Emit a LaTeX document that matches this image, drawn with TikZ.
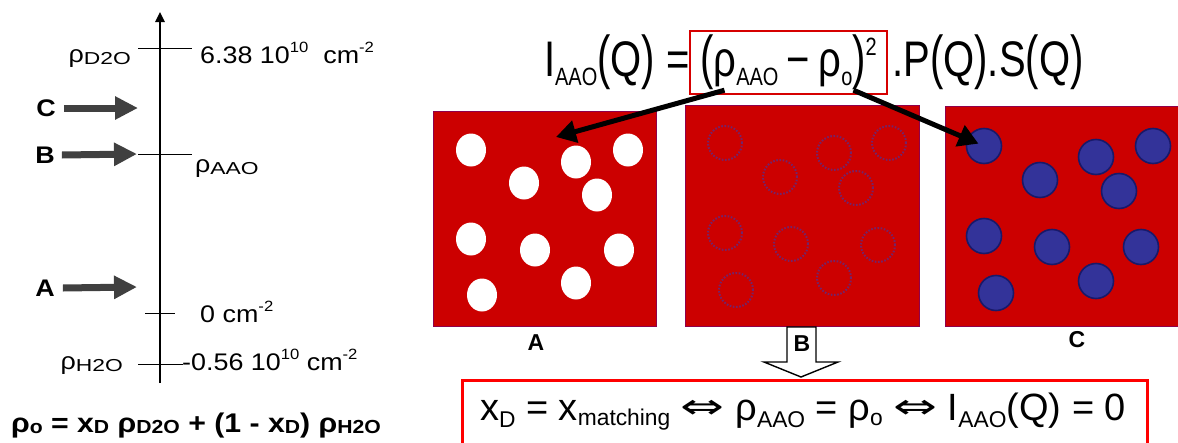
\documentclass[tikz,border=0pt]{standalone}
\usepackage{fontspec}
\setmainfont{Liberation Sans}
\newfontfamily\axfont[FakeStretch=1.12]{Liberation Sans}
\newfontfamily\eqfont[FakeStretch=0.8]{Liberation Sans}
\newfontfamily\symfont{DejaVu Sans}
\usepackage{graphicx}
\usetikzlibrary{arrows.meta,positioning,shapes.geometric}

\definecolor{panelred}{RGB}{204,0,0}
\definecolor{framered}{RGB}{214,0,0}
\definecolor{blobblue}{RGB}{51,51,153}
\definecolor{blobedge}{RGB}{25,25,105}
\definecolor{ghost}{RGB}{115,35,105}
\definecolor{arrowgray}{RGB}{64,64,64}

% sub- and superscripts
\newcommand{\lowtxt}[3][0.15em]{\raisebox{-#1}{\scalebox{#2}{#3}}}
\newcommand{\axsub}[1]{\raisebox{-0.12em}{\scalebox{0.85}[0.72]{#1}}}
\newcommand{\uptxt}[1]{\raisebox{0.45em}{\scalebox{0.62}{#1}}}
\newcommand{\tallpar}[1]{\raisebox{-0.02em}{\scalebox{1}[1.18]{#1}}}
\newcommand{\dblarr}{\ \raisebox{0.05em}{\scalebox{1.75}[1.15]{\symfont\fontsize{30}{30}\selectfont ⇔}}\ }

\begin{document}
\begin{tikzpicture}[x=1pt, y=-1pt,
  panel/.style = {draw=panelred!70!blue, line width=0.6pt, fill=panelred, anchor=north west, inner sep=0pt},
  hole/.style = {ellipse, fill=white, minimum width=30pt, minimum height=33pt, inner sep=0pt},
  ghostring/.style = {circle, draw=ghost, dash pattern=on 1.6pt off 1.6pt, line width=2pt, minimum size=34pt, inner sep=0pt},
  blob/.style = {circle, fill=blobblue, draw=blobedge, line width=1.6pt, minimum size=35pt, inner sep=0pt},
  tick/.style = {line width=0.8pt},
  axlbl/.style = {font=\axfont\fontsize{24}{24}\selectfont, inner sep=0pt, anchor=base west},
  letter/.style = {font=\axfont\bfseries\fontsize{24}{24}\selectfont, inner sep=0pt},
  fatarrow/.style = {line width=7pt, draw=arrowgray, -{Triangle[length=23pt, width=22pt]}},
  pointer/.style = {line width=5pt, -{Triangle[length=20pt, width=22pt]}},
  eqtop/.style = {font=\eqfont\fontsize{50}{50}\selectfont, inner sep=0pt},
  frame/.style = {draw=framered, line width=2.4pt},
  plabel/.style = {font=\bfseries\fontsize{23}{23}\selectfont, inner sep=0pt}
  ]
\useasboundingbox (0,0) rectangle (1178,442);

% density axis
\coordinate (axbot) at (160,383);
\coordinate (axtop) at (160,12);
\draw[line width=2.4pt, -{Triangle[length=10pt, width=9pt]}] (axbot) -- (axtop);

\draw[tick] (138,48) -- (192,48);
\draw[tick] (138,154) -- (192,154);
\draw[tick] (145,313) -- (175,313);
\draw[tick] (138,364) -- (183,364);

\node[axlbl, anchor=base east] (rd2o) at (131,62) {ρ\axsub{D2O}};
\node[axlbl] (vd2o) at (200,63) {6.38 10\uptxt{10}\ \ cm\uptxt{-2}};
\node[axlbl] (raao) at (195,172) {ρ\axsub{AAO}};
\node[axlbl] (vzero) at (200,322) {0 cm\uptxt{-2}};
\node[axlbl, anchor=base east] (rh2o) at (123,369) {ρ\axsub{H2O}};
\node[axlbl] (vh2o) at (182,370) {-0.56 10\uptxt{10} cm\uptxt{-2}};

% contrast arrows
\node[letter] (lc) at (46,108) {C};
\node[letter] (lb) at (45,155) {B};
\node[letter] (la) at (45,288) {A};
\coordinate (tc) at (138,108);
\coordinate (tb) at (137,154);
\coordinate (ta) at (137,287);
\draw[fatarrow] ([xshift=8pt]lc.east) -- (tc);
\draw[fatarrow] ([xshift=7pt]lb.east) -- (tb);
\draw[fatarrow] ([xshift=8pt]la.east) -- (ta);

% matching condition
\node[font=\axfont\bfseries\fontsize{27}{27}\selectfont, inner sep=0pt, anchor=base] (rho0) at (196,432)
  {ρ\lowtxt[0.05em]{0.7}{o} = x\lowtxt[0.05em]{0.7}{D} ρ\lowtxt[0.05em]{0.7}{D2O} + (1 - x\lowtxt[0.05em]{0.7}{D}) ρ\lowtxt[0.05em]{0.7}{H2O}};

% intensity formula
\node[eqtop, frame, minimum width=197pt, minimum height=63pt] (fbox) at (788.5,62.5)
  {\tallpar{(}ρ\lowtxt[0.17em]{0.5}{AAO}\,−\,ρ\lowtxt[0.17em]{0.5}{o}\tallpar{)}\raisebox{0.43em}{\scalebox{0.5}{2}}};
\node[eqtop, anchor=base east] (flhs) at ([xshift=1pt]fbox.base west)
  {I\lowtxt[0.17em]{0.5}{AAO}\tallpar{(}Q\tallpar{)} =};
\node[eqtop, anchor=base west] (frhs) at ([xshift=4pt]fbox.base east)
  {.P\tallpar{(}Q\tallpar{)}.S\tallpar{(}Q\tallpar{)}};

% samples
\node[panel, minimum width=223pt, minimum height=215pt] (pa) at (433,111) {};
\node[panel, minimum width=234pt, minimum height=221pt] (pb) at (685,105) {};
\node[panel, minimum width=234pt, minimum height=220pt] (pc) at (945,106) {};

\foreach \cx/\cy [count=\i] in {471/150, 524/183, 576/162, 628/150, 597/195,
    471/239, 535/250, 619/250, 482/295, 576/283}
  \node[hole] (a\i) at (\cx,\cy) {};
\foreach \cx/\cy [count=\i] in {725/143, 780/177, 834/153, 889/143, 856/188,
    725/233, 791/244, 878/245, 736/290, 834/278}
  \node[ghostring] (b\i) at (\cx,\cy) {};
\foreach \cx/\cy [count=\i] in {984/146, 1040/180, 1096/157, 1153/146, 1119/191,
    984/236, 1052/247, 1141/247, 996/293, 1096/281}
  \node[blob] (c\i) at (\cx,\cy) {};

\draw[line width=1.4pt, fill=white] (787,327) -- (787,362) -- (764,362) -- (801,377)
  -- (838,362) -- (816,362) -- (816,327) -- cycle;

\node[plabel] (na) at (536,343) {A};
\node[plabel] (nb) at (802,344) {B};
\node[plabel] (nc) at (1077,340) {C};

\coordinate (atip) at (556,137);
\draw[pointer] ([xshift=-64pt,yshift=5pt]fbox.south) -- (atip);
\draw[pointer, shorten >=6pt] ([xshift=65pt,yshift=5pt]fbox.south) -- (c1.center);

% result
\node[frame, draw=red, line width=2.8pt, anchor=north west, minimum width=685pt, minimum height=67pt] (res) at (461,379) {};
\node[font=\fontsize{38}{38}\selectfont, inner sep=0pt, anchor=base] (restxt) at (803,420)
  {x\lowtxt[0.2em]{0.6}{D} = x\lowtxt[0.14em]{0.6}{matching}\dblarr ρ\lowtxt[0.2em]{0.6}{AAO} = ρ\lowtxt[0.14em]{0.6}{o}\dblarr I\lowtxt[0.2em]{0.6}{AAO}(Q) = 0};
\end{tikzpicture}
\end{document}
